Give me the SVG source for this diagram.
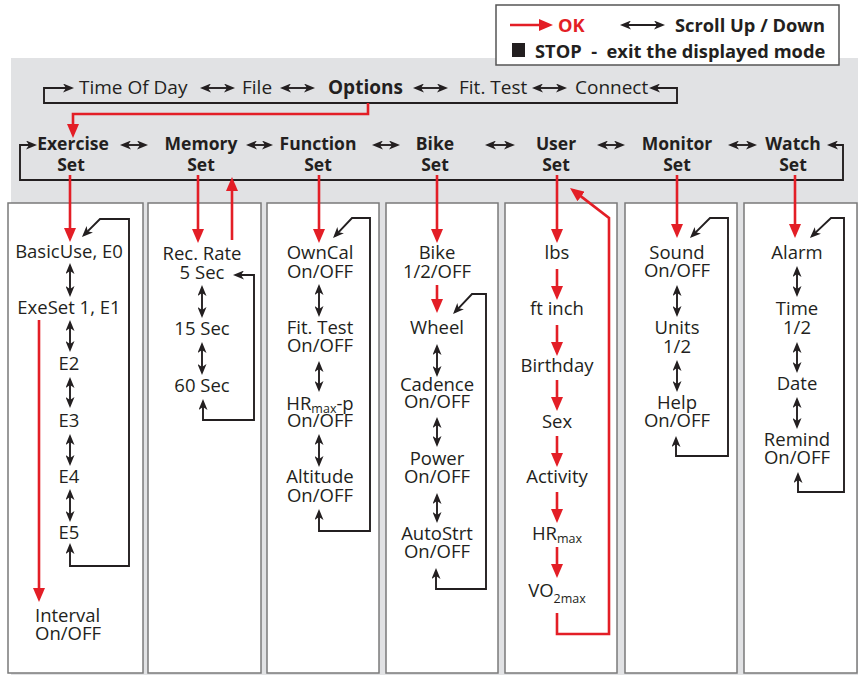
<svg xmlns="http://www.w3.org/2000/svg" width="858" height="675" viewBox="0 0 858 675">
<style>
text{font-family:"Open Sans","Liberation Sans",sans-serif;font-size:18.5px;fill:#231f20}
.b{font-weight:bold}
.c{text-anchor:middle}
.lg{font-size:18.3px}
.tp{font-size:19px}
.st{font-size:17.5px}
.red{fill:#e31e26}
.sub{font-size:12.5px}
.k{fill:none;stroke:#231f20;stroke-width:1.9}
.r{fill:none;stroke:#e31e26;stroke-width:2.6}
.panel{fill:#fff;stroke:#7a7a7a;stroke-width:1.5}
.ka{marker-start:url(#ak);marker-end:url(#ak)}
.re{marker-end:url(#ar)}
</style>
<defs>
<marker id="ak" viewBox="0 0 11 9" refX="8" refY="4.5" markerWidth="11" markerHeight="9" markerUnits="userSpaceOnUse" orient="auto-start-reverse"><path d="M0,0 L11,4.5 L0,9 L3,4.5 z" fill="#231f20"/></marker>
<marker id="ar" viewBox="0 0 14 12" refX="10" refY="6" markerWidth="14" markerHeight="12" markerUnits="userSpaceOnUse" orient="auto"><path d="M0,0 L14,6 L0,12 z" fill="#e31e26"/></marker>
</defs>
<rect x="11" y="58" width="847" height="617" fill="#e1e2e4"/>
<g id="legend">
<rect x="496" y="5" width="343" height="60" fill="#fff" stroke="#555" stroke-width="1.5"/>
<path class="r re" d="M510,25 H549"/>
<text x="558" y="32" class="b lg red">OK</text>
<path class="k ka" d="M623,25 H662"/>
<text x="675" y="32" class="b lg">Scroll Up / Down</text>
<rect x="512" y="43" width="13" height="14" fill="#231f20"/>
<text x="535" y="58" class="b lg" xml:space="preserve">STOP  -  exit the displayed mode</text>
</g>
<g id="top-row">
<text x="79" y="94" class="tp">Time Of Day</text>
<text x="242" y="94" class="tp">File</text>
<text x="328" y="94" class="b tp">Options</text>
<text x="459" y="94" class="tp">Fit. Test</text>
<text x="575" y="94" class="tp">Connect</text>
</g>
<g id="set-row">
<text class="b c st"><tspan x="73" y="150">Exercise</tspan><tspan x="71" y="171">Set</tspan></text>
<text class="b c st"><tspan x="201" y="150">Memory</tspan><tspan x="201" y="171">Set</tspan></text>
<text class="b c st"><tspan x="318" y="150">Function</tspan><tspan x="318" y="171">Set</tspan></text>
<text class="b c st"><tspan x="435" y="150">Bike</tspan><tspan x="435" y="171">Set</tspan></text>
<text class="b c st"><tspan x="556" y="150">User</tspan><tspan x="556" y="171">Set</tspan></text>
<text class="b c st"><tspan x="677" y="150">Monitor</tspan><tspan x="677" y="171">Set</tspan></text>
<text class="b c st"><tspan x="793" y="150">Watch</tspan><tspan x="793" y="171">Set</tspan></text>
</g>
<g id="panel-exercise">
<rect class="panel" x="8" y="203" width="135" height="470"/>
<text x="69" y="258" class="c">BasicUse, E0</text>
<text x="69" y="314" class="c">ExeSet 1, E1</text>
<text x="69" y="370" class="c">E2</text>
<text x="69" y="427" class="c">E3</text>
<text x="69" y="483" class="c">E4</text>
<text x="69" y="539" class="c">E5</text>
<text><tspan x="35" y="622">Interval</tspan><tspan x="35" y="640">On/OFF</tspan></text>
</g>
<g id="panel-memory">
<rect class="panel" x="148" y="203" width="113" height="470"/>
<text class="c"><tspan x="202" y="260">Rec. Rate</tspan><tspan x="202" y="279">5 Sec</tspan></text>
<text x="202" y="335" class="c">15 Sec</text>
<text x="202" y="392" class="c">60 Sec</text>
</g>
<g id="panel-function">
<rect class="panel" x="267" y="203" width="112" height="470"/>
<text class="c"><tspan x="320" y="259">OwnCal</tspan><tspan x="320" y="278">On/OFF</tspan></text>
<text class="c"><tspan x="320" y="334">Fit. Test</tspan><tspan x="320" y="352">On/OFF</tspan></text>
<text class="c"><tspan x="320" y="410">HR<tspan class="sub" dy="3">max</tspan><tspan dy="-3">-p</tspan></tspan><tspan x="320" y="427">On/OFF</tspan></text>
<text class="c"><tspan x="320" y="483">Altitude</tspan><tspan x="320" y="502">On/OFF</tspan></text>
</g>
<g id="panel-bike">
<rect class="panel" x="386" y="203" width="112" height="470"/>
<text class="c"><tspan x="437" y="259">Bike</tspan><tspan x="437" y="278">1/2/OFF</tspan></text>
<text x="437" y="334" class="c">Wheel</text>
<text class="c"><tspan x="437" y="391">Cadence</tspan><tspan x="437" y="408">On/OFF</tspan></text>
<text class="c"><tspan x="437" y="465">Power</tspan><tspan x="437" y="483">On/OFF</tspan></text>
<text class="c"><tspan x="437" y="540">AutoStrt</tspan><tspan x="437" y="558">On/OFF</tspan></text>
</g>
<g id="panel-user">
<rect class="panel" x="505" y="203" width="112" height="470"/>
<text x="557" y="259" class="c">lbs</text>
<text x="557" y="315" class="c">ft inch</text>
<text x="557" y="372" class="c">Birthday</text>
<text x="557" y="428" class="c">Sex</text>
<text x="557" y="483" class="c">Activity</text>
<text x="557" y="540" class="c">HR<tspan class="sub" dy="3">max</tspan></text>
<text x="557" y="597" class="c">VO<tspan class="sub" dy="6">2max</tspan></text>
</g>
<g id="panel-monitor">
<rect class="panel" x="625" y="203" width="112" height="470"/>
<text class="c"><tspan x="677" y="259">Sound</tspan><tspan x="677" y="277">On/OFF</tspan></text>
<text class="c"><tspan x="677" y="334">Units</tspan><tspan x="677" y="353">1/2</tspan></text>
<text class="c"><tspan x="677" y="409">Help</tspan><tspan x="677" y="427">On/OFF</tspan></text>
</g>
<g id="panel-watch">
<rect class="panel" x="744" y="203" width="113" height="470"/>
<text x="797" y="259" class="c">Alarm</text>
<text class="c"><tspan x="797" y="315">Time</tspan><tspan x="797" y="334">1/2</tspan></text>
<text x="797" y="390" class="c">Date</text>
<text class="c"><tspan x="797" y="446">Remind</tspan><tspan x="797" y="464">On/OFF</tspan></text>
</g>
<g id="connectors">
<path class="k ka" d="M203,88 H232"/>
<path class="k ka" d="M283,88 H312"/>
<path class="k ka" d="M416,88 H445"/>
<path class="k ka" d="M535,88 H564"/>
<path class="k ka" d="M71,88 H44 V103 H677 V88 H652"/>
<path class="k ka" d="M123,145 H145"/>
<path class="k ka" d="M249,145 H270"/>
<path class="k ka" d="M375,145 H397"/>
<path class="k ka" d="M488,145 H512"/>
<path class="k ka" d="M600,145 H622"/>
<path class="k ka" d="M731,145 H754"/>
<path class="k ka" d="M34,145 H20 V180 H843 V145 H830"/>
<path class="r re" d="M368,103 V114 H73 V134"/>
<path class="r re" d="M70,175 V238"/>
<path class="r re" d="M198,175 V239"/>
<path class="r re" d="M232,240 V181"/>
<path class="r re" d="M319,175 V239"/>
<path class="r re" d="M437,175 V239"/>
<path class="r re" d="M557,175 V239"/>
<path class="r re" d="M677,175 V234"/>
<path class="r re" d="M795,175 V234"/>
<path class="r re" d="M39,320 V598"/>
<path class="k ka" d="M70,266 V294"/>
<path class="k ka" d="M70,323 V349"/>
<path class="k ka" d="M70,380 V405"/>
<path class="k ka" d="M70,437 V463"/>
<path class="k ka" d="M70,492 V519"/>
<path class="k ka" d="M70,546 V566 H129 V219 H100 L84.1,234.9"/>
<path class="k ka" d="M202,288 V315"/>
<path class="k ka" d="M202,345 V372"/>
<path class="k ka" d="M203,402 V420 H254 V275 H236"/>
<path class="k ka" d="M319,287 V314"/>
<path class="k ka" d="M319,364 V389"/>
<path class="k ka" d="M319,437 V464"/>
<path class="k ka" d="M319,512 V531 H370 V218 H352 L335.1,235.9"/>
<path class="r re" d="M437,285 V309"/>
<path class="k ka" d="M437,347 V374"/>
<path class="k ka" d="M437,420 V444"/>
<path class="k ka" d="M437,496 V520"/>
<path class="k ka" d="M436,571 V589 H486 V294 H472 L455.1,311.9"/>
<path class="r re" d="M557,269 V296"/>
<path class="r re" d="M557,325 V352"/>
<path class="r re" d="M557,380 V407"/>
<path class="r re" d="M557,436 V463"/>
<path class="r re" d="M557,492 V519"/>
<path class="r re" d="M557,547 V574"/>
<path class="r re" d="M557,613 V634 H609 V218 L573.2,190.4"/>
<path class="k ka" d="M677,288 V314"/>
<path class="k ka" d="M677,363 V389"/>
<path class="k ka" d="M676,439 V456 H728 V218 H710 L692.1,235.9"/>
<path class="k ka" d="M797,269 V294"/>
<path class="k ka" d="M797,345 V370"/>
<path class="k ka" d="M797,400 V426"/>
<path class="k ka" d="M798,475 V492 H844 V218 H831 L812.1,235.9"/>
</g>
</svg>
